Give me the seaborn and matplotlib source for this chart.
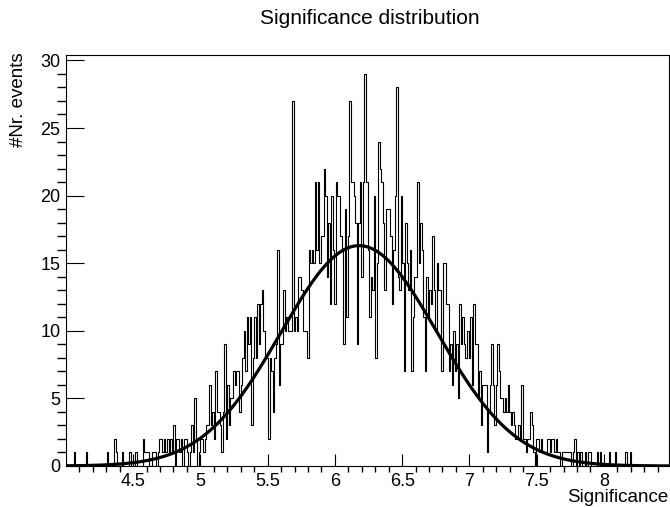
import numpy as np
import pandas as pd
import matplotlib
matplotlib.use('Agg')
import matplotlib.pyplot as plt
import seaborn as sns
from matplotlib.ticker import MultipleLocator, FormatStrFormatter

# histogram range and binning
x_min, x_max = 4.001, 8.484
n_bins = 400

# bin contents left to right
counts_low = [
    0, 0, 0, 0, 0, 1, 0, 0, 0, 0,
    0, 0, 0, 1, 0, 0, 0, 0, 0, 0,
    0, 0, 0, 0, 0, 0, 0, 1, 0, 0,
    0, 0, 2, 1, 0, 0, 0, 1, 0, 0,
    0, 0, 1, 0, 0, 0, 1, 0, 0, 0,
    0, 2, 1, 1, 1, 0, 0, 1, 1, 1,
    0, 1, 2, 2, 1, 2, 1, 2, 1, 2,
    1, 3, 0, 2, 2, 1, 2, 0, 2, 2,
    1, 0, 1, 3, 1, 5, 2, 0, 1, 2,
    2, 1, 2, 3, 3, 6, 3, 4, 2, 7,
    4, 4, 3, 1, 4, 9, 2, 6, 3, 5,
    5, 7, 6, 7, 7, 4, 6, 8, 10, 7,
    11, 9, 11, 3, 8, 11, 8, 12, 9, 12,
]
counts_peak = [
    13, 10, 8, 8, 2, 8, 7, 4, 8, 9,
    16, 6, 9, 9, 13, 10, 11, 10, 10, 10,
    27, 10, 11, 10, 14, 14, 13, 10, 10, 10,
    8, 16, 15, 16, 15, 21, 16, 21, 15, 17,
    17, 22, 20, 14, 18, 12, 20, 16, 12, 21,
    20, 20, 17, 16, 9, 19, 11, 17, 27, 21,
    21, 20, 18, 9, 18, 21, 14, 21, 29, 21,
    16, 11, 14, 13, 20, 8, 15, 24, 22, 21,
    18, 13, 19, 19, 19, 17, 12, 16, 20, 28,
    14, 13, 20, 15, 7, 18, 15, 13, 16, 7,
    11, 14, 14, 21, 15, 18, 16, 11, 7, 14,
    11, 13, 12, 17, 13, 10, 15, 13, 13, 7,
    15, 15, 12, 12, 7, 9, 6, 10, 7, 9,
    5, 12, 9, 11, 9, 8, 10, 8, 11, 6,
]
counts_high = [
    12, 9, 9, 5, 7, 3, 6, 6, 6, 1,
    4, 6, 9, 6, 3, 6, 9, 7, 5, 5,
    4, 5, 4, 6, 4, 3, 4, 3, 2, 2,
    3, 2, 6, 2, 2, 1, 2, 2, 4, 3,
    1, 0, 2, 2, 1, 2, 1, 1, 1, 2,
    2, 1, 2, 2, 1, 2, 1, 1, 0, 1,
    1, 1, 1, 1, 1, 0, 1, 2, 0, 1,
    0, 1, 0, 0, 1, 0, 1, 1, 0, 0,
    0, 0, 1, 0, 1, 0, 0, 0, 0, 0,
    1, 0, 0, 0, 1, 0, 0, 0, 0, 0,
    0, 1, 0, 0, 1, 0, 0, 0, 0, 0,
    0, 0, 0, 0, 0, 0, 0, 0, 0, 0,
    0, 0, 0, 0, 0, 0, 0, 0, 0, 0,
]

# gaussian fit parameters
fit_amp = 16.3
fit_mean = 6.18
fit_sigma = 0.58

counts = np.array(counts_low + counts_peak + counts_high, dtype=float)
edges = np.linspace(x_min, x_max, n_bins + 1)
df = pd.DataFrame({'sig': 0.5 * (edges[:-1] + edges[1:]), 'n': counts})

xs = np.linspace(x_min, x_max, 600)
fit = pd.DataFrame({'x': xs, 'y': fit_amp * np.exp(-0.5 * ((xs - fit_mean) / fit_sigma) ** 2)})

sns.set_theme(style='ticks')
plt.rcParams['font.family'] = ['Liberation Sans', 'DejaVu Sans']
plt.rcParams.update({'text.color': 'black', 'axes.labelcolor': 'black',
                     'xtick.color': 'black', 'ytick.color': 'black'})

fig = plt.figure(figsize=(6.7, 5.07), dpi=100)
ax = fig.add_axes([66 / 670, 41 / 507, 603 / 670, 411 / 507])

sns.histplot(data=df, x='sig', weights='n', bins=list(edges), element='step', fill=False,
             color='black', linewidth=0.8, ax=ax)
sns.lineplot(data=fit, x='x', y='y', color='black', linewidth=2.3, ax=ax)

ax.set_xlim(x_min, x_max)
ax.set_ylim(0, 30.4)
ax.set_xlabel('')
ax.set_ylabel('')

ax.xaxis.set_major_locator(MultipleLocator(0.5))
ax.xaxis.set_minor_locator(MultipleLocator(0.1))
ax.xaxis.set_major_formatter(FormatStrFormatter('%g'))
ax.yaxis.set_major_locator(MultipleLocator(5))
ax.yaxis.set_minor_locator(MultipleLocator(1))
ax.tick_params(direction='in', colors='black', labelsize=13, width=0.8)
ax.tick_params(axis='x', which='major', length=8.6, pad=5)
ax.tick_params(axis='x', which='minor', length=4.3)
ax.tick_params(axis='y', which='major', length=13, pad=4)
ax.tick_params(axis='y', which='minor', length=6.7)
for s in ax.spines.values():
    s.set_color('black')
    s.set_linewidth(0.8)

fig.text(370 / 670, 1 - 18 / 507, 'Significance distribution', ha='center', va='center', fontsize=15)
fig.text(668 / 670, 1 - 497 / 507, 'Significance', ha='right', va='center', fontsize=13.5)
fig.text(19 / 670, 1 - 52 / 507, '#Nr. events', ha='center', va='top', rotation=90, fontsize=13.5)

fig.savefig('out.png', dpi=100)
